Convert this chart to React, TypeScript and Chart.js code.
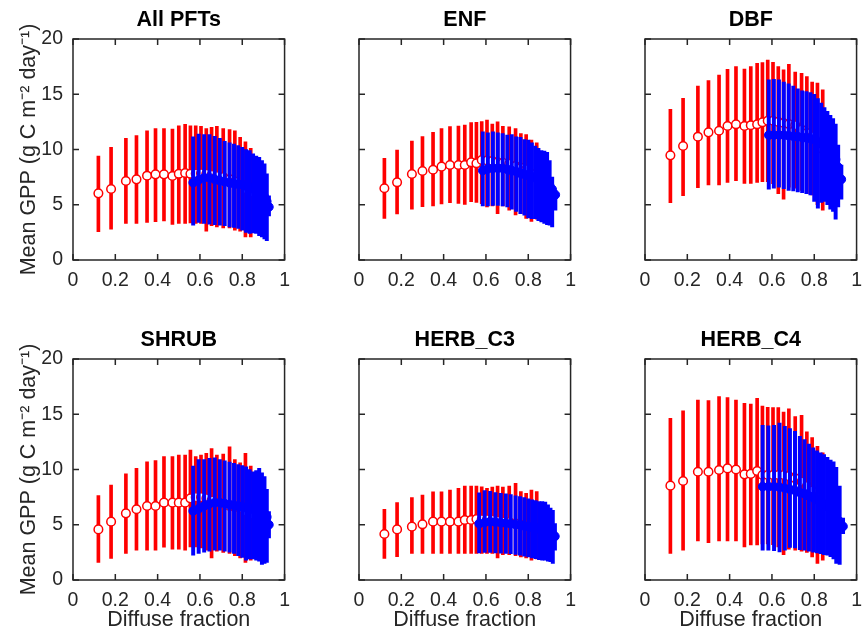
import React, { useEffect, useRef } from 'react';
import { Chart, registerables } from 'chart.js';

Chart.register(...registerables);

// ---------- axis ticks ----------
const xTicks = [0, 0.2, 0.4, 0.6, 0.8, 1];
const yTicks = [0, 5, 10, 15, 20];

const panelTitles = ['All PFTs', 'ENF', 'DBF', 'SHRUB', 'HERB_C3', 'HERB_C4'];
const xAxisTitle = 'Diffuse fraction';
const yAxisTitle = 'Mean GPP (g C m\u207B\u00B2 day\u207B\u00B9)';

// ---------- red series (shared bin centres) ----------
const redX = [0.12, 0.18, 0.25, 0.30, 0.35, 0.39, 0.43, 0.47, 0.50, 0.53, 0.555, 0.58, 0.605, 0.63, 0.655, 0.68, 0.71, 0.74, 0.765, 0.79, 0.815, 0.84];

// ---------- blue series bin centres ----------
const blueXA = [0.568, 0.594, 0.62, 0.645, 0.67, 0.694, 0.717, 0.74, 0.761, 0.781, 0.80, 0.818, 0.835, 0.851, 0.866, 0.88, 0.893, 0.905, 0.916, 0.926];
const blueXB = [0.585, 0.609, 0.633, 0.656, 0.679, 0.701, 0.722, 0.743, 0.763, 0.782, 0.80, 0.817, 0.833, 0.848, 0.862, 0.876, 0.889, 0.901, 0.913, 0.928];
const blueXC = [0.556, 0.583, 0.61, 0.636, 0.661, 0.685, 0.709, 0.732, 0.754, 0.775, 0.795, 0.813, 0.83, 0.846, 0.862, 0.877, 0.891, 0.904, 0.92, 0.936];

// ---------- All PFTs ----------
const allRedMean = [6.03, 6.43, 7.15, 7.3, 7.63, 7.75, 7.75, 7.6, 7.8, 7.87, 7.8, 7.83, 7.85, 7.8, 7.7, 7.6, 7.5, 7.3, 7.1, 6.9, 6.4, 6.1];
const allRedHi = [9.41, 10.2, 11.0, 11.25, 11.7, 11.9, 11.9, 11.85, 12.15, 12.27, 12.15, 12.15, 12.1, 11.9, 12.0, 12.1, 11.9, 11.8, 11.7, 11.1, 10.7, 10.1];
const allRedLo = [2.56, 2.8, 3.3, 3.3, 3.4, 3.47, 3.53, 3.23, 3.3, 3.3, 3.35, 3.3, 3.3, 2.6, 3.1, 3.0, 2.9, 2.9, 2.7, 2.6, 2.1, 2.1];
const allBlueMean = [7.0, 7.25, 7.45, 7.45, 7.3, 7.18, 7.08, 6.98, 6.9, 6.85, 6.83, 6.7, 6.6, 6.45, 6.35, 6.2, 6.0, 5.7, 5.3, 4.8];
const allBlueHi = [11.15, 11.4, 11.35, 11.35, 11.2, 11.0, 10.75, 10.6, 10.5, 10.35, 10.2, 10.0, 9.9, 9.6, 9.4, 9.3, 9.0, 8.7, 7.8, 5.8];
const allBlueLo = [3.15, 3.4, 3.3, 3.25, 3.2, 3.15, 3.1, 3.0, 2.95, 2.85, 2.7, 2.5, 2.4, 2.45, 2.4, 2.2, 2.1, 1.9, 1.75, 4.0];

// ---------- ENF ----------
const enfRedMean = [6.49, 7.03, 7.78, 8.05, 8.17, 8.45, 8.6, 8.6, 8.6, 8.84, 8.75, 9.05, 9.0, 8.95, 8.85, 8.8, 8.7, 8.5, 8.35, 8.2, 7.8, 7.5];
const enfRedHi = [9.2, 9.95, 10.77, 11.16, 11.55, 11.9, 12.07, 12.13, 12.2, 12.43, 12.46, 12.52, 12.67, 12.3, 12.5, 12.1, 12.05, 11.9, 11.45, 11.35, 10.86, 10.6];
const enfRedLo = [3.77, 4.16, 4.6, 4.83, 4.9, 5.07, 5.19, 5.13, 5.04, 5.28, 5.2, 5.1, 4.8, 4.9, 4.2, 4.9, 4.5, 4.07, 4.2, 3.77, 3.5, 3.7];
const enfBlueMean = [8.1, 8.25, 8.3, 8.3, 8.3, 8.2, 8.1, 8.0, 7.85, 7.75, 7.65, 7.52, 7.45, 7.3, 7.2, 7.05, 6.9, 6.75, 6.4, 5.9];
const enfBlueHi = [11.6, 11.5, 11.6, 11.5, 11.45, 11.3, 11.35, 11.15, 11.1, 10.9, 10.85, 10.6, 10.3, 10.1, 9.9, 9.85, 9.75, 9.0, 7.5, 6.3];
const enfBlueLo = [4.9, 4.9, 4.95, 4.95, 4.9, 4.8, 4.6, 4.4, 4.2, 4.05, 3.8, 3.75, 3.75, 3.55, 3.45, 3.3, 3.2, 3.15, 3.0, 4.5];

// ---------- DBF ----------
const dbfRedMean = [9.47, 10.32, 11.16, 11.55, 11.7, 12.13, 12.28, 12.13, 12.2, 12.28, 12.46, 12.6, 12.6, 12.5, 12.4, 12.3, 12.2, 11.8, 11.5, 11.2, 10.6, 10.0];
const dbfRedHi = [13.64, 14.63, 15.75, 16.23, 16.74, 17.25, 17.5, 17.28, 17.5, 17.8, 17.86, 18.1, 17.9, 17.5, 17.2, 17.7, 17.0, 16.9, 16.6, 16.1, 16.0, 15.4];
const dbfRedLo = [5.19, 5.82, 6.55, 6.79, 6.79, 7.03, 7.18, 6.94, 6.94, 7.03, 7.1, 7.1, 6.9, 6.0, 5.5, 6.6, 6.5, 6.3, 6.0, 5.9, 5.0, 4.5];
const dbfBlueMean = [11.3, 11.3, 11.3, 11.3, 11.25, 11.2, 11.15, 11.1, 11.05, 10.97, 10.9, 10.75, 10.55, 10.32, 10.12, 9.8, 9.5, 9.1, 8.4, 7.3];
const dbfBlueHi = [16.3, 16.35, 16.3, 16.1, 15.95, 15.75, 15.5, 15.3, 15.25, 15.15, 15.0, 14.6, 14.2, 13.8, 13.45, 13.1, 12.8, 12.3, 10.4, 8.6];
const dbfBlueLo = [6.4, 6.5, 6.6, 6.45, 6.3, 6.25, 6.15, 6.1, 6.0, 5.9, 5.3, 4.7, 5.2, 5.3, 5.0, 4.6, 4.4, 3.7, 4.8, 5.5];

// ---------- SHRUB ----------
const shrubRedMean = [4.58, 5.28, 6.03, 6.4, 6.7, 6.7, 7.0, 7.0, 7.0, 7.0, 7.39, 7.5, 7.5, 7.4, 7.2, 7.0, 6.9, 6.7, 6.6, 6.5, 6.2, 5.9];
const shrubRedHi = [7.63, 8.6, 9.6, 10.1, 10.7, 10.8, 11.16, 11.16, 11.3, 11.3, 11.76, 11.16, 11.3, 11.46, 11.9, 11.3, 11.4, 12.06, 10.9, 10.6, 11.46, 10.3];
const shrubRedLo = [1.6, 1.96, 2.41, 2.71, 2.71, 2.71, 2.96, 2.78, 2.78, 2.71, 3.0, 3.0, 2.9, 2.7, 2.0, 2.6, 2.5, 2.4, 2.2, 2.0, 1.6, 1.8];
const shrubBlueMean = [6.25, 6.45, 6.7, 6.9, 7.0, 7.0, 6.92, 6.82, 6.75, 6.7, 6.62, 6.55, 6.48, 6.4, 6.3, 6.2, 6.1, 6.0, 5.7, 5.0];
const shrubBlueHi = [10.3, 10.9, 10.9, 11.0, 11.05, 10.9, 10.78, 10.68, 10.55, 10.45, 10.35, 10.25, 10.0, 9.8, 9.9, 10.1, 9.7, 9.35, 8.2, 6.2];
const shrubBlueLo = [2.25, 2.4, 2.52, 2.62, 2.7, 2.7, 2.62, 2.52, 2.4, 2.2, 2.05, 1.8, 1.9, 1.9, 1.8, 1.7, 1.4, 1.5, 1.6, 3.8];

// ---------- HERB_C3 ----------
const c3RedMean = [4.16, 4.58, 4.83, 5.04, 5.28, 5.28, 5.28, 5.28, 5.43, 5.43, 5.52, 5.5, 5.5, 5.45, 5.35, 5.3, 5.25, 5.1, 5.0, 4.9, 4.75, 4.6];
const c3RedHi = [6.4, 7.0, 7.45, 7.69, 7.99, 7.99, 8.14, 8.3, 8.5, 8.5, 8.5, 8.44, 8.3, 8.4, 8.5, 8.4, 8.5, 8.75, 8.0, 7.85, 8.14, 8.0];
const c3RedLo = [1.96, 2.11, 2.41, 2.41, 2.41, 2.41, 2.41, 2.41, 2.41, 2.41, 2.41, 2.41, 2.4, 2.4, 2.0, 2.3, 2.3, 2.2, 2.1, 2.0, 1.8, 1.9];
const c3BlueMean = [5.1, 5.2, 5.28, 5.24, 5.19, 5.14, 5.09, 5.02, 4.98, 4.9, 4.84, 4.78, 4.72, 4.65, 4.6, 4.55, 4.45, 4.3, 4.15, 3.95];
const c3BlueHi = [7.9, 8.1, 8.02, 7.92, 7.85, 7.8, 7.72, 7.62, 7.55, 7.45, 7.35, 7.25, 7.18, 7.1, 7.1, 7.05, 6.8, 6.5, 6.3, 5.1];
const c3BlueLo = [2.45, 2.5, 2.5, 2.45, 2.42, 2.4, 2.38, 2.32, 2.25, 2.15, 2.08, 2.0, 1.92, 1.85, 1.8, 1.8, 1.7, 1.65, 1.5, 2.7];

// ---------- HERB_C4 ----------
const c4RedMean = [8.54, 8.96, 9.8, 9.8, 9.95, 10.1, 10.0, 9.56, 9.6, 9.86, 9.5, 9.5, 9.5, 9.5, 9.5, 9.4, 9.2, 8.9, 8.5, 8.1, 7.5, 6.9];
const c4RedHi = [14.63, 15.32, 16.29, 16.23, 16.59, 16.5, 16.29, 15.99, 15.93, 16.44, 15.75, 15.63, 15.6, 15.6, 15.2, 15.5, 14.8, 14.9, 13.4, 12.9, 12.1, 11.5];
const c4RedLo = [2.41, 2.71, 3.53, 3.38, 3.53, 3.53, 3.53, 3.0, 3.17, 3.17, 3.26, 3.26, 3.2, 3.0, 2.3, 2.8, 2.7, 2.6, 2.5, 2.1, 1.5, 1.8];
const c4BlueMean = [8.45, 8.45, 8.45, 8.4, 8.3, 8.2, 8.1, 7.92, 7.8, 7.6, 7.45, 7.25, 7.02, 6.85, 6.6, 6.3, 6.0, 5.7, 5.3, 4.85];
const c4BlueHi = [14.0, 13.95, 14.0, 14.2, 13.9, 13.7, 13.45, 13.0, 12.7, 12.3, 11.95, 11.7, 11.5, 11.35, 11.1, 10.85, 10.7, 10.2, 8.5, 5.6];
const c4BlueLo = [2.7, 2.7, 2.65, 2.55, 2.7, 2.95, 2.9, 2.75, 2.7, 2.6, 2.52, 2.45, 2.38, 2.3, 2.25, 2.12, 1.9, 1.5, 1.4, 4.2];

// ---------- tables built from the arrays ----------
const panels = [
  { title: panelTitles[0], redMean: allRedMean, redHi: allRedHi, redLo: allRedLo, blueX: blueXA, blueMean: allBlueMean, blueHi: allBlueHi, blueLo: allBlueLo },
  { title: panelTitles[1], redMean: enfRedMean, redHi: enfRedHi, redLo: enfRedLo, blueX: blueXB, blueMean: enfBlueMean, blueHi: enfBlueHi, blueLo: enfBlueLo },
  { title: panelTitles[2], redMean: dbfRedMean, redHi: dbfRedHi, redLo: dbfRedLo, blueX: blueXB, blueMean: dbfBlueMean, blueHi: dbfBlueHi, blueLo: dbfBlueLo },
  { title: panelTitles[3], redMean: shrubRedMean, redHi: shrubRedHi, redLo: shrubRedLo, blueX: blueXA, blueMean: shrubBlueMean, blueHi: shrubBlueHi, blueLo: shrubBlueLo },
  { title: panelTitles[4], redMean: c3RedMean, redHi: c3RedHi, redLo: c3RedLo, blueX: blueXA, blueMean: c3BlueMean, blueHi: c3BlueHi, blueLo: c3BlueLo },
  { title: panelTitles[5], redMean: c4RedMean, redHi: c4RedHi, redLo: c4RedLo, blueX: blueXC, blueMean: c4BlueMean, blueHi: c4BlueHi, blueLo: c4BlueLo },
];

// ---------- layout / style ----------
const FONT = "'Liberation Sans', Arial, Helvetica, sans-serif";
const AX = '#262626';
const RED = '#ff0000';
const BLUE = '#0000ff';
const Y_AXIS_W = 73;
const X_AXIS_H = 60;
const PAD_R = 8;
const PLOT_W = 218;
const PLOT_H = 221;
const TITLE_H = 39;
const CANVAS_W = Y_AXIS_W + PLOT_W + PAD_R;
const CANVAS_H = TITLE_H + PLOT_H + X_AXIS_H;
const colLefts = [0, 286, 572];
const rowTops = [0, 320];

const boxPlugin = {
  id: 'matlabBox',
  afterDatasetsDraw(chart: any) {
    const { ctx, chartArea: a, scales } = chart;
    const tl = 6;
    ctx.save();
    ctx.strokeStyle = AX;
    ctx.lineWidth = 1.5;
    ctx.strokeRect(a.left, a.top, a.right - a.left, a.bottom - a.top);
    ctx.beginPath();
    for (const t of scales.x.ticks) {
      const px = scales.x.getPixelForValue(t.value);
      ctx.moveTo(px, a.bottom);
      ctx.lineTo(px, a.bottom - tl);
      ctx.moveTo(px, a.top);
      ctx.lineTo(px, a.top + tl);
    }
    for (const t of scales.y.ticks) {
      const py = scales.y.getPixelForValue(t.value);
      ctx.moveTo(a.left, py);
      ctx.lineTo(a.left + tl, py);
      ctx.moveTo(a.right, py);
      ctx.lineTo(a.right - tl, py);
    }
    ctx.stroke();
    ctx.restore();
  },
};

function Panel({ idx }: { idx: number }) {
  const ref = useRef<HTMLCanvasElement | null>(null);
  const col = idx % 3;
  const row = Math.floor(idx / 3);
  useEffect(() => {
    const p = panels[idx];
    const pts = (xs: number[], ys: number[]) => xs.map((x, i) => ({ x, y: ys[i] }));
    const bars = (xs: number[], lo: number[], hi: number[]) => xs.map((x, i) => ({ x, y: [lo[i], hi[i]] }));
    const chart = new Chart(ref.current as HTMLCanvasElement, {
      type: 'bar',
      data: {
        datasets: [
          { type: 'bar', data: bars(redX, p.redLo, p.redHi) as any, backgroundColor: RED, barThickness: 3, grouped: false, borderWidth: 0, order: 4 } as any,
          { type: 'scatter', data: pts(redX, p.redMean), pointRadius: 4.3, pointBorderWidth: 1.5, pointBackgroundColor: '#ffffff', pointBorderColor: RED, showLine: false, order: 3 } as any,
          { type: 'bar', data: bars(p.blueX, p.blueLo, p.blueHi) as any, backgroundColor: BLUE, barThickness: 3.3, grouped: false, borderWidth: 0, order: 2 } as any,
          { type: 'scatter', data: pts(p.blueX, p.blueMean), pointRadius: 4.3, pointBorderWidth: 1, pointBackgroundColor: BLUE, pointBorderColor: BLUE, showLine: false, order: 1 } as any,
        ],
      },
      options: {
        animation: false,
        responsive: false,
        events: [],
        layout: { padding: { left: 0, right: PAD_R, top: 0, bottom: 0 } },
        plugins: {
          legend: { display: false },
          tooltip: { enabled: false },
          title: {
            display: true,
            text: p.title,
            fullSize: false,
            color: '#000000',
            font: { family: FONT, size: 21.5, weight: 'bold', lineHeight: 1.2 },
            padding: { top: 7.1, bottom: 6.1 },
          },
        },
        scales: {
          x: {
            type: 'linear',
            min: 0,
            max: 1,
            offset: false,
            grid: { display: false, drawTicks: false },
            border: { display: false },
            afterBuildTicks: (s: any) => { s.ticks = xTicks.map((v) => ({ value: v })); },
            afterFit: (s: any) => { s.height = X_AXIS_H; },
            ticks: { color: AX, font: { family: FONT, size: 19.5 }, padding: 9, maxRotation: 0, autoSkip: false, callback: (v: any) => String(v) },
            title: { display: row === 1, text: xAxisTitle, color: AX, font: { family: FONT, size: 21.5 }, padding: { top: 0, bottom: 7 } },
          },
          y: {
            type: 'linear',
            min: 0,
            max: 20,
            grid: { display: false, drawTicks: false },
            border: { display: false },
            afterBuildTicks: (s: any) => { s.ticks = yTicks.map((v) => ({ value: v })); },
            afterFit: (s: any) => { s.width = Y_AXIS_W; },
            ticks: { display: col === 0, color: AX, font: { family: FONT, size: 19.5 }, padding: 10, callback: (v: any) => String(v) },
            title: { display: col === 0, text: yAxisTitle, color: AX, font: { family: FONT, size: 21.5 }, padding: { top: 16, bottom: 0 } },
          },
        },
      } as any,
      plugins: [boxPlugin],
    });
    return () => chart.destroy();
  }, [idx]);
  return (
    <canvas
      ref={ref}
      width={CANVAS_W}
      height={CANVAS_H}
      style={{ position: 'absolute', left: colLefts[col], top: rowTops[row], width: CANVAS_W, height: CANVAS_H }}
    />
  );
}

export default function App() {
  return (
    <div style={{ position: 'absolute', left: 0, top: 0, width: 866, height: 644, overflow: 'hidden', background: '#ffffff' }}>
      {panels.map((_, i) => (
        <Panel key={i} idx={i} />
      ))}
    </div>
  );
}
